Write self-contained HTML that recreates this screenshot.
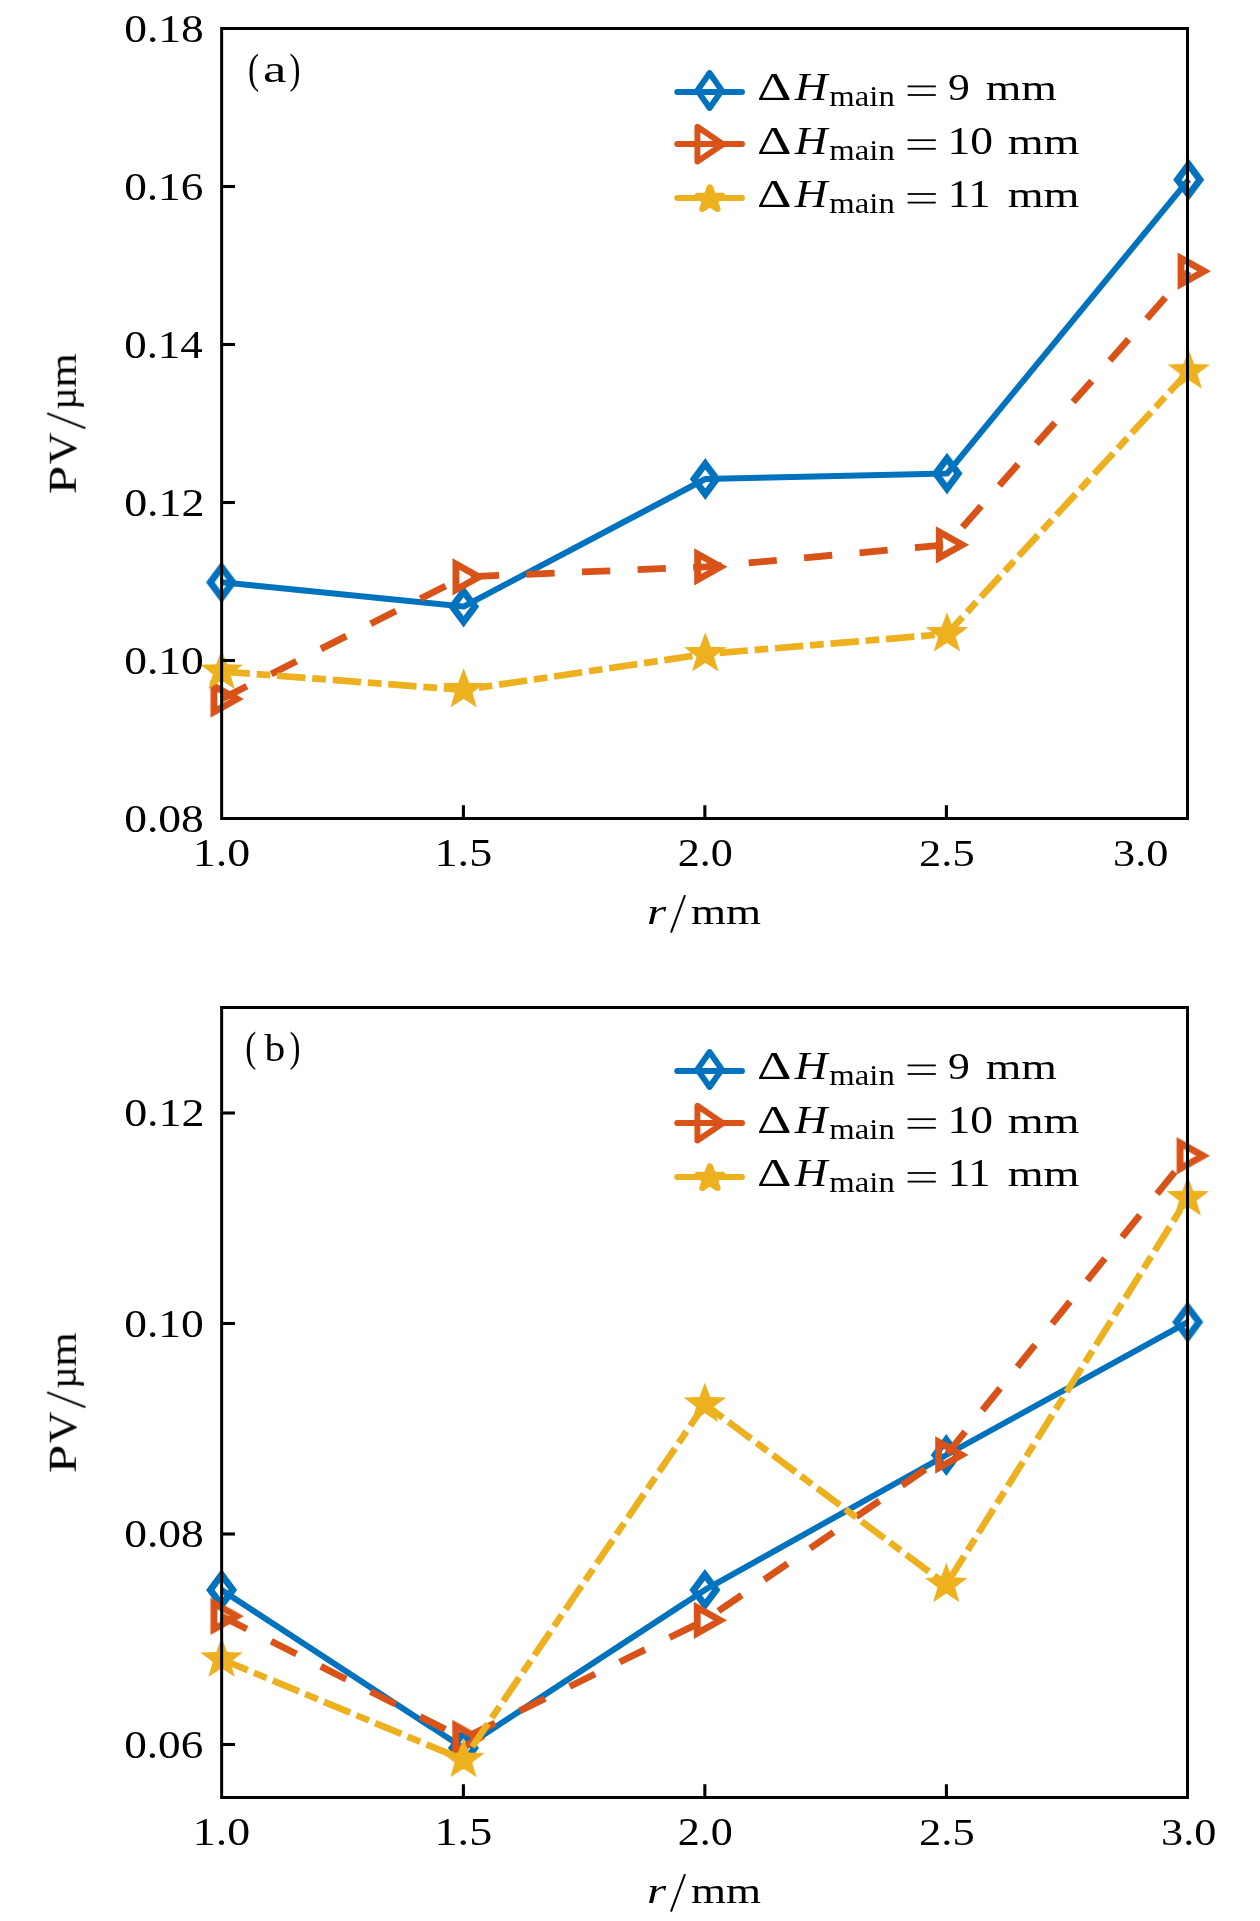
<!DOCTYPE html>
<html><head><meta charset="utf-8"><title>PV vs r</title>
<style>
html,body{margin:0;padding:0;background:#fff;}
svg{display:block;font-family:"Liberation Serif",serif;}
text{fill:#000;}
</style></head>
<body>
<svg width="1260" height="1921" viewBox="0 0 1260 1921">
<rect width="1260" height="1921" fill="#fff"/>
<g opacity="0.999">
<polyline points="221.60,582.30 463.60,606.60 705.30,479.00 947.00,473.60 1188.70,179.70" fill="none" stroke="#0072BD" stroke-width="6.0" stroke-linejoin="round" stroke-linecap="butt"/>
<g transform="translate(221.60,582.30) scale(1.03,1)"><path d="M0.00,-15.15 L10.92,0.00 L0.00,15.15 L-10.92,0.00 Z" fill="none" stroke="#0072BD" stroke-width="6.75" stroke-linejoin="miter" stroke-miterlimit="10"/></g>
<g transform="translate(463.60,606.60) scale(1.03,1)"><path d="M0.00,-15.15 L10.92,0.00 L0.00,15.15 L-10.92,0.00 Z" fill="none" stroke="#0072BD" stroke-width="6.75" stroke-linejoin="miter" stroke-miterlimit="10"/></g>
<g transform="translate(705.30,479.00) scale(1.03,1)"><path d="M0.00,-15.15 L10.92,0.00 L0.00,15.15 L-10.92,0.00 Z" fill="none" stroke="#0072BD" stroke-width="6.75" stroke-linejoin="miter" stroke-miterlimit="10"/></g>
<g transform="translate(947.00,473.60) scale(1.03,1)"><path d="M0.00,-15.15 L10.92,0.00 L0.00,15.15 L-10.92,0.00 Z" fill="none" stroke="#0072BD" stroke-width="6.75" stroke-linejoin="miter" stroke-miterlimit="10"/></g>
<g transform="translate(1188.70,179.70) scale(1.03,1)"><path d="M0.00,-15.15 L10.92,0.00 L0.00,15.15 L-10.92,0.00 Z" fill="none" stroke="#0072BD" stroke-width="6.75" stroke-linejoin="miter" stroke-miterlimit="10"/></g>
<polyline points="221.60,699.00 463.60,576.90 705.30,566.80 947.00,544.80 1188.70,271.20" fill="none" stroke="#D95319" stroke-width="6.8" stroke-linejoin="round" stroke-linecap="butt" stroke-dasharray="28.270 27.380"/>
<g transform="translate(221.60,699.00) scale(1.03,1)"><path d="M14.90,0.00 L-7.45,-12.90 L-7.45,12.90 Z" fill="none" stroke="#D95319" stroke-width="6.65" stroke-linejoin="miter" stroke-miterlimit="10"/></g>
<g transform="translate(463.60,576.90) scale(1.03,1)"><path d="M14.90,0.00 L-7.45,-12.90 L-7.45,12.90 Z" fill="none" stroke="#D95319" stroke-width="6.65" stroke-linejoin="miter" stroke-miterlimit="10"/></g>
<g transform="translate(705.30,566.80) scale(1.03,1)"><path d="M14.90,0.00 L-7.45,-12.90 L-7.45,12.90 Z" fill="none" stroke="#D95319" stroke-width="6.65" stroke-linejoin="miter" stroke-miterlimit="10"/></g>
<g transform="translate(947.00,544.80) scale(1.03,1)"><path d="M14.90,0.00 L-7.45,-12.90 L-7.45,12.90 Z" fill="none" stroke="#D95319" stroke-width="6.65" stroke-linejoin="miter" stroke-miterlimit="10"/></g>
<g transform="translate(1188.70,271.20) scale(1.03,1)"><path d="M14.90,0.00 L-7.45,-12.90 L-7.45,12.90 Z" fill="none" stroke="#D95319" stroke-width="6.65" stroke-linejoin="miter" stroke-miterlimit="10"/></g>
<polyline points="221.60,671.50 463.60,689.90 705.30,654.00 947.00,634.00 1188.70,371.20" fill="none" stroke="#EDB120" stroke-width="6.7" stroke-linejoin="round" stroke-linecap="butt" stroke-dasharray="28.407 6.795 13.702 6.795"/>
<g transform="translate(221.60,671.50) scale(1.03,1)"><polygon points="0.00,-21.75 5.29,-7.28 20.69,-6.72 8.56,2.78 12.78,17.60 0.00,9.00 -12.78,17.60 -8.56,2.78 -20.69,-6.72 -5.29,-7.28" fill="#EDB120"/></g>
<g transform="translate(463.60,689.90) scale(1.03,1)"><polygon points="0.00,-21.75 5.29,-7.28 20.69,-6.72 8.56,2.78 12.78,17.60 0.00,9.00 -12.78,17.60 -8.56,2.78 -20.69,-6.72 -5.29,-7.28" fill="#EDB120"/></g>
<g transform="translate(705.30,654.00) scale(1.03,1)"><polygon points="0.00,-21.75 5.29,-7.28 20.69,-6.72 8.56,2.78 12.78,17.60 0.00,9.00 -12.78,17.60 -8.56,2.78 -20.69,-6.72 -5.29,-7.28" fill="#EDB120"/></g>
<g transform="translate(947.00,634.00) scale(1.03,1)"><polygon points="0.00,-21.75 5.29,-7.28 20.69,-6.72 8.56,2.78 12.78,17.60 0.00,9.00 -12.78,17.60 -8.56,2.78 -20.69,-6.72 -5.29,-7.28" fill="#EDB120"/></g>
<g transform="translate(1188.70,371.20) scale(1.03,1)"><polygon points="0.00,-21.75 5.29,-7.28 20.69,-6.72 8.56,2.78 12.78,17.60 0.00,9.00 -12.78,17.60 -8.56,2.78 -20.69,-6.72 -5.29,-7.28" fill="#EDB120"/></g>
<rect x="221.65" y="28.5" width="965.85" height="790.0" fill="none" stroke="#000" stroke-width="3.0"/>
<line x1="463.40" y1="818.5" x2="463.40" y2="805.2" stroke="#000" stroke-width="3.1"/>
<line x1="704.85" y1="818.5" x2="704.85" y2="805.2" stroke="#000" stroke-width="3.1"/>
<line x1="946.40" y1="818.5" x2="946.40" y2="805.2" stroke="#000" stroke-width="3.1"/>
<text transform="translate(124.15,41.70) scale(1.1678,1.0000)" font-size="39">0.18</text>
<line x1="221.65" y1="186.5" x2="234.95000000000002" y2="186.5" stroke="#000" stroke-width="3.1"/>
<text transform="translate(124.16,199.50) scale(1.1611,1.0000)" font-size="39">0.16</text>
<line x1="221.65" y1="344.5" x2="234.95000000000002" y2="344.5" stroke="#000" stroke-width="3.1"/>
<text transform="translate(124.17,357.50) scale(1.1524,1.0000)" font-size="39">0.14</text>
<line x1="221.65" y1="502.5" x2="234.95000000000002" y2="502.5" stroke="#000" stroke-width="3.1"/>
<text transform="translate(124.13,515.50) scale(1.1791,1.0000)" font-size="39">0.12</text>
<line x1="221.65" y1="660.5" x2="234.95000000000002" y2="660.5" stroke="#000" stroke-width="3.1"/>
<text transform="translate(124.15,673.50) scale(1.1678,1.0000)" font-size="39">0.10</text>
<text transform="translate(124.15,831.50) scale(1.1678,1.0000)" font-size="39">0.08</text>
<text transform="translate(192.81,866.20) scale(1.1755,1.0000)" font-size="39">1.0</text>
<text transform="translate(434.42,866.20) scale(1.1869,1.0000)" font-size="39">1.5</text>
<text transform="translate(677.64,866.20) scale(1.1303,1.0000)" font-size="39">2.0</text>
<text transform="translate(919.07,866.20) scale(1.1413,1.0000)" font-size="39">2.5</text>
<text transform="translate(1113.12,866.20) scale(1.1350,1.0000)" font-size="39">3.0</text>
<text transform="translate(248.04,83.10) scale(0.7774,1.0000)" font-size="43">(</text>
<text transform="translate(262.98,81.90) scale(1.3876,1.0000)" font-size="38">a</text>
<text transform="translate(289.44,83.10) scale(0.7684,1.0000)" font-size="43">)</text>
<g transform="translate(75.8,492.70) rotate(-90)"><text transform="translate(-1.44,0.00) scale(1.2821,1.0000)" font-size="40">P</text><text transform="translate(28.62,0.00) scale(1.0929,1.0000)" font-size="40">V</text><line x1="64.5" y1="9.6" x2="79.4" y2="-28.7" stroke="#000" stroke-width="2.0"/><text transform="translate(82.89,0.00) scale(1.0154,1.0000)" font-size="38">µ</text><text transform="translate(105.05,0.00) scale(1.1672,1.0000)" font-size="38">m</text></g>
<text transform="translate(646.98,924.00) scale(1.4051,1.0000)" font-size="35" font-style="italic">r</text>
<line x1="671.0" y1="932.60" x2="685.0" y2="895.20" stroke="#000" stroke-width="2.0"/>
<text transform="translate(690.97,924.00) scale(1.2356,1.0000)" font-size="36.5">mm</text>
<line x1="677.2" y1="92.00" x2="742.0" y2="92.00" stroke="#0072BD" stroke-width="5.9" stroke-linecap="round"/>
<path d="M709.60,73.00 L721.80,90.50 L709.60,108.00 L697.40,90.50 Z" fill="none" stroke="#0072BD" stroke-width="5.9" stroke-linejoin="round" stroke-miterlimit="10"/>
<text transform="translate(756.98,99.70) scale(1.3451,1.0000)" font-size="40">Δ</text>
<text transform="translate(794.79,99.70) scale(1.1309,1.0000)" font-size="40" font-style="italic">H</text>
<text transform="translate(829.35,105.80) scale(1.1482,1.0000)" font-size="28.5">main</text>
<line x1="907.6" y1="86.40" x2="935.8" y2="86.40" stroke="#000" stroke-width="1.8"/>
<line x1="907.6" y1="95.00" x2="935.8" y2="95.00" stroke="#000" stroke-width="1.8"/>
<text transform="translate(948.10,99.70) scale(1.1206,1.0000)" font-size="39">9</text>
<text transform="translate(985.76,99.70) scale(1.2537,1.0000)" font-size="36.5">mm</text>
<line x1="677.2" y1="144.00" x2="742.0" y2="144.00" stroke="#D95319" stroke-width="5.9" stroke-linecap="round"/>
<path d="M697.4,126.80 L697.4,161.50 L722.9,144.20 Z" fill="none" stroke="#D95319" stroke-width="5.9" stroke-linejoin="round"/>
<text transform="translate(756.98,153.50) scale(1.3451,1.0000)" font-size="40">Δ</text>
<text transform="translate(794.79,153.50) scale(1.1309,1.0000)" font-size="40" font-style="italic">H</text>
<text transform="translate(829.35,159.60) scale(1.1482,1.0000)" font-size="28.5">main</text>
<line x1="907.6" y1="140.20" x2="935.8" y2="140.20" stroke="#000" stroke-width="1.8"/>
<line x1="907.6" y1="148.80" x2="935.8" y2="148.80" stroke="#000" stroke-width="1.8"/>
<text transform="translate(947.58,153.50) scale(1.1684,1.0000)" font-size="39">10</text>
<text transform="translate(1007.65,153.50) scale(1.2645,1.0000)" font-size="36.5">mm</text>
<line x1="677.2" y1="198.00" x2="742.0" y2="198.00" stroke="#EDB120" stroke-width="5.9" stroke-linecap="round"/>
<g transform="translate(709.9,199.30) scale(1.07,1)"><polygon points="0.00,-12.00 2.82,-3.88 11.41,-3.71 4.57,1.48 7.05,9.71 0.00,4.80 -7.05,9.71 -4.57,1.48 -11.41,-3.71 -2.82,-3.88" fill="#EDB120" stroke="#EDB120" stroke-width="5.9" stroke-linejoin="round"/></g>
<text transform="translate(756.98,207.30) scale(1.3451,1.0000)" font-size="40">Δ</text>
<text transform="translate(794.79,207.30) scale(1.1309,1.0000)" font-size="40" font-style="italic">H</text>
<text transform="translate(829.35,213.40) scale(1.1482,1.0000)" font-size="28.5">main</text>
<line x1="907.6" y1="194.00" x2="935.8" y2="194.00" stroke="#000" stroke-width="1.8"/>
<line x1="907.6" y1="202.60" x2="935.8" y2="202.60" stroke="#000" stroke-width="1.8"/>
<text transform="translate(947.67,207.30) scale(1.1442,1.0000)" font-size="39">11</text>
<text transform="translate(1007.65,207.30) scale(1.2645,1.0000)" font-size="36.5">mm</text>
<polyline points="221.60,1589.90 463.40,1748.00 704.90,1589.90 946.30,1455.00 1187.70,1322.10" fill="none" stroke="#0072BD" stroke-width="6.0" stroke-linejoin="round" stroke-linecap="butt"/>
<g transform="translate(221.60,1589.90) scale(1.03,1)"><path d="M0.00,-15.15 L10.92,0.00 L0.00,15.15 L-10.92,0.00 Z" fill="none" stroke="#0072BD" stroke-width="6.75" stroke-linejoin="miter" stroke-miterlimit="10"/></g>
<g transform="translate(463.40,1748.00) scale(1.03,1)"><path d="M0.00,-15.15 L10.92,0.00 L0.00,15.15 L-10.92,0.00 Z" fill="none" stroke="#0072BD" stroke-width="6.75" stroke-linejoin="miter" stroke-miterlimit="10"/></g>
<g transform="translate(704.90,1589.90) scale(1.03,1)"><path d="M0.00,-15.15 L10.92,0.00 L0.00,15.15 L-10.92,0.00 Z" fill="none" stroke="#0072BD" stroke-width="6.75" stroke-linejoin="miter" stroke-miterlimit="10"/></g>
<g transform="translate(946.30,1455.00) scale(1.03,1)"><path d="M0.00,-15.15 L10.92,0.00 L0.00,15.15 L-10.92,0.00 Z" fill="none" stroke="#0072BD" stroke-width="6.75" stroke-linejoin="miter" stroke-miterlimit="10"/></g>
<g transform="translate(1187.70,1322.10) scale(1.03,1)"><path d="M0.00,-15.15 L10.92,0.00 L0.00,15.15 L-10.92,0.00 Z" fill="none" stroke="#0072BD" stroke-width="6.75" stroke-linejoin="miter" stroke-miterlimit="10"/></g>
<polyline points="221.60,1616.20 463.40,1738.50 704.90,1620.30 946.30,1455.00 1187.70,1155.80" fill="none" stroke="#D95319" stroke-width="6.8" stroke-linejoin="round" stroke-linecap="butt" stroke-dasharray="28.255 27.365"/>
<g transform="translate(221.60,1616.20) scale(1.03,1)"><path d="M14.90,0.00 L-7.45,-12.90 L-7.45,12.90 Z" fill="none" stroke="#D95319" stroke-width="6.65" stroke-linejoin="miter" stroke-miterlimit="10"/></g>
<g transform="translate(463.40,1738.50) scale(1.03,1)"><path d="M14.90,0.00 L-7.45,-12.90 L-7.45,12.90 Z" fill="none" stroke="#D95319" stroke-width="6.65" stroke-linejoin="miter" stroke-miterlimit="10"/></g>
<g transform="translate(704.90,1620.30) scale(1.03,1)"><path d="M14.90,0.00 L-7.45,-12.90 L-7.45,12.90 Z" fill="none" stroke="#D95319" stroke-width="6.65" stroke-linejoin="miter" stroke-miterlimit="10"/></g>
<g transform="translate(946.30,1455.00) scale(1.03,1)"><path d="M14.90,0.00 L-7.45,-12.90 L-7.45,12.90 Z" fill="none" stroke="#D95319" stroke-width="6.65" stroke-linejoin="miter" stroke-miterlimit="10"/></g>
<g transform="translate(1187.70,1155.80) scale(1.03,1)"><path d="M14.90,0.00 L-7.45,-12.90 L-7.45,12.90 Z" fill="none" stroke="#D95319" stroke-width="6.65" stroke-linejoin="miter" stroke-miterlimit="10"/></g>
<polyline points="221.60,1659.30 463.40,1759.70 704.90,1404.30 946.30,1584.60 1187.70,1198.00" fill="none" stroke="#EDB120" stroke-width="6.7" stroke-linejoin="round" stroke-linecap="butt" stroke-dasharray="28.280 6.765 13.641 6.765"/>
<g transform="translate(221.60,1659.30) scale(1.03,1)"><polygon points="0.00,-21.75 5.29,-7.28 20.69,-6.72 8.56,2.78 12.78,17.60 0.00,9.00 -12.78,17.60 -8.56,2.78 -20.69,-6.72 -5.29,-7.28" fill="#EDB120"/></g>
<g transform="translate(463.40,1759.70) scale(1.03,1)"><polygon points="0.00,-21.75 5.29,-7.28 20.69,-6.72 8.56,2.78 12.78,17.60 0.00,9.00 -12.78,17.60 -8.56,2.78 -20.69,-6.72 -5.29,-7.28" fill="#EDB120"/></g>
<g transform="translate(704.90,1404.30) scale(1.03,1)"><polygon points="0.00,-21.75 5.29,-7.28 20.69,-6.72 8.56,2.78 12.78,17.60 0.00,9.00 -12.78,17.60 -8.56,2.78 -20.69,-6.72 -5.29,-7.28" fill="#EDB120"/></g>
<g transform="translate(946.30,1584.60) scale(1.03,1)"><polygon points="0.00,-21.75 5.29,-7.28 20.69,-6.72 8.56,2.78 12.78,17.60 0.00,9.00 -12.78,17.60 -8.56,2.78 -20.69,-6.72 -5.29,-7.28" fill="#EDB120"/></g>
<g transform="translate(1187.70,1198.00) scale(1.03,1)"><polygon points="0.00,-21.75 5.29,-7.28 20.69,-6.72 8.56,2.78 12.78,17.60 0.00,9.00 -12.78,17.60 -8.56,2.78 -20.69,-6.72 -5.29,-7.28" fill="#EDB120"/></g>
<rect x="221.65" y="1007.5" width="965.85" height="790.0" fill="none" stroke="#000" stroke-width="3.0"/>
<line x1="463.40" y1="1797.5" x2="463.40" y2="1784.2" stroke="#000" stroke-width="3.1"/>
<line x1="704.85" y1="1797.5" x2="704.85" y2="1784.2" stroke="#000" stroke-width="3.1"/>
<line x1="946.40" y1="1797.5" x2="946.40" y2="1784.2" stroke="#000" stroke-width="3.1"/>
<line x1="221.65" y1="1113.0" x2="234.95000000000002" y2="1113.0" stroke="#000" stroke-width="3.1"/>
<text transform="translate(124.13,1126.00) scale(1.1791,1.0000)" font-size="39">0.12</text>
<line x1="221.65" y1="1323.5" x2="234.95000000000002" y2="1323.5" stroke="#000" stroke-width="3.1"/>
<text transform="translate(124.15,1336.50) scale(1.1678,1.0000)" font-size="39">0.10</text>
<line x1="221.65" y1="1534.0" x2="234.95000000000002" y2="1534.0" stroke="#000" stroke-width="3.1"/>
<text transform="translate(124.15,1547.00) scale(1.1678,1.0000)" font-size="39">0.08</text>
<line x1="221.65" y1="1744.5" x2="234.95000000000002" y2="1744.5" stroke="#000" stroke-width="3.1"/>
<text transform="translate(124.16,1757.50) scale(1.1611,1.0000)" font-size="39">0.06</text>
<text transform="translate(192.81,1845.20) scale(1.1755,1.0000)" font-size="39">1.0</text>
<text transform="translate(434.42,1845.20) scale(1.1869,1.0000)" font-size="39">1.5</text>
<text transform="translate(677.64,1845.20) scale(1.1303,1.0000)" font-size="39">2.0</text>
<text transform="translate(919.07,1845.20) scale(1.1413,1.0000)" font-size="39">2.5</text>
<text transform="translate(1161.02,1845.20) scale(1.1350,1.0000)" font-size="39">3.0</text>
<text transform="translate(245.24,1061.30) scale(0.7774,1.0000)" font-size="43">(</text>
<text transform="translate(264.60,1060.60) scale(1.0779,1.0000)" font-size="38.5">b</text>
<text transform="translate(289.44,1061.30) scale(0.7684,1.0000)" font-size="43">)</text>
<g transform="translate(75.8,1471.70) rotate(-90)"><text transform="translate(-1.44,0.00) scale(1.2821,1.0000)" font-size="40">P</text><text transform="translate(28.62,0.00) scale(1.0929,1.0000)" font-size="40">V</text><line x1="64.5" y1="9.6" x2="79.4" y2="-28.7" stroke="#000" stroke-width="2.0"/><text transform="translate(82.89,0.00) scale(1.0154,1.0000)" font-size="38">µ</text><text transform="translate(105.05,0.00) scale(1.1672,1.0000)" font-size="38">m</text></g>
<text transform="translate(646.98,1903.00) scale(1.4051,1.0000)" font-size="35" font-style="italic">r</text>
<line x1="671.0" y1="1911.60" x2="685.0" y2="1874.20" stroke="#000" stroke-width="2.0"/>
<text transform="translate(690.97,1903.00) scale(1.2356,1.0000)" font-size="36.5">mm</text>
<line x1="677.2" y1="1071.00" x2="742.0" y2="1071.00" stroke="#0072BD" stroke-width="5.9" stroke-linecap="round"/>
<path d="M709.60,1052.00 L721.80,1069.50 L709.60,1087.00 L697.40,1069.50 Z" fill="none" stroke="#0072BD" stroke-width="5.9" stroke-linejoin="round" stroke-miterlimit="10"/>
<text transform="translate(756.98,1078.70) scale(1.3451,1.0000)" font-size="40">Δ</text>
<text transform="translate(794.79,1078.70) scale(1.1309,1.0000)" font-size="40" font-style="italic">H</text>
<text transform="translate(829.35,1084.80) scale(1.1482,1.0000)" font-size="28.5">main</text>
<line x1="907.6" y1="1065.40" x2="935.8" y2="1065.40" stroke="#000" stroke-width="1.8"/>
<line x1="907.6" y1="1074.00" x2="935.8" y2="1074.00" stroke="#000" stroke-width="1.8"/>
<text transform="translate(948.10,1078.70) scale(1.1206,1.0000)" font-size="39">9</text>
<text transform="translate(985.76,1078.70) scale(1.2537,1.0000)" font-size="36.5">mm</text>
<line x1="677.2" y1="1123.00" x2="742.0" y2="1123.00" stroke="#D95319" stroke-width="5.9" stroke-linecap="round"/>
<path d="M697.4,1105.80 L697.4,1140.50 L722.9,1123.20 Z" fill="none" stroke="#D95319" stroke-width="5.9" stroke-linejoin="round"/>
<text transform="translate(756.98,1132.50) scale(1.3451,1.0000)" font-size="40">Δ</text>
<text transform="translate(794.79,1132.50) scale(1.1309,1.0000)" font-size="40" font-style="italic">H</text>
<text transform="translate(829.35,1138.60) scale(1.1482,1.0000)" font-size="28.5">main</text>
<line x1="907.6" y1="1119.20" x2="935.8" y2="1119.20" stroke="#000" stroke-width="1.8"/>
<line x1="907.6" y1="1127.80" x2="935.8" y2="1127.80" stroke="#000" stroke-width="1.8"/>
<text transform="translate(947.58,1132.50) scale(1.1684,1.0000)" font-size="39">10</text>
<text transform="translate(1007.65,1132.50) scale(1.2645,1.0000)" font-size="36.5">mm</text>
<line x1="677.2" y1="1177.00" x2="742.0" y2="1177.00" stroke="#EDB120" stroke-width="5.9" stroke-linecap="round"/>
<g transform="translate(709.9,1178.30) scale(1.07,1)"><polygon points="0.00,-12.00 2.82,-3.88 11.41,-3.71 4.57,1.48 7.05,9.71 0.00,4.80 -7.05,9.71 -4.57,1.48 -11.41,-3.71 -2.82,-3.88" fill="#EDB120" stroke="#EDB120" stroke-width="5.9" stroke-linejoin="round"/></g>
<text transform="translate(756.98,1186.30) scale(1.3451,1.0000)" font-size="40">Δ</text>
<text transform="translate(794.79,1186.30) scale(1.1309,1.0000)" font-size="40" font-style="italic">H</text>
<text transform="translate(829.35,1192.40) scale(1.1482,1.0000)" font-size="28.5">main</text>
<line x1="907.6" y1="1173.00" x2="935.8" y2="1173.00" stroke="#000" stroke-width="1.8"/>
<line x1="907.6" y1="1181.60" x2="935.8" y2="1181.60" stroke="#000" stroke-width="1.8"/>
<text transform="translate(947.67,1186.30) scale(1.1442,1.0000)" font-size="39">11</text>
<text transform="translate(1007.65,1186.30) scale(1.2645,1.0000)" font-size="36.5">mm</text>
</g>
</svg>
</body></html>
